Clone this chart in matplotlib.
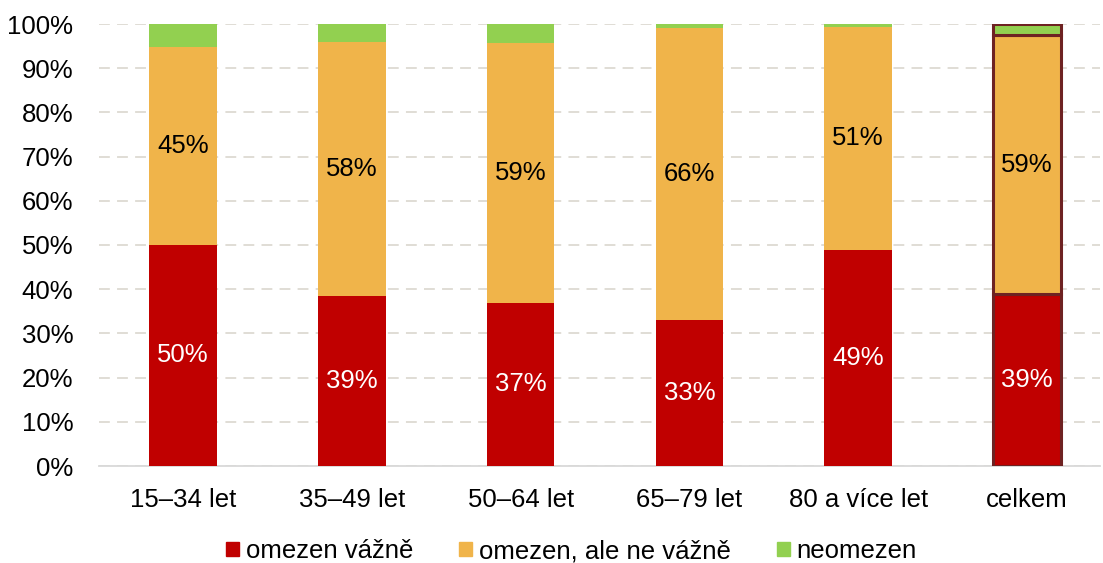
import numpy as np
import matplotlib
matplotlib.use("Agg")
from matplotlib import pyplot as plt

plt.rcParams['font.family'] = ['Liberation Sans', 'DejaVu Sans']

categories = ['15–34 let', '35–49 let', '50–64 let', '65–79 let', '80 a více let', 'celkem']
vazne = [50.0, 38.5, 36.9, 33.0, 48.9, 38.9]
ne_vazne = [44.8, 57.5, 58.8, 66.0, 50.5, 58.6]
neomezen = [5.2, 4.0, 4.3, 1.0, 0.6, 2.5]
labels_vazne = ['50%', '39%', '37%', '33%', '49%', '39%']
labels_ne = ['45%', '58%', '59%', '66%', '51%', '59%']

c_red = '#C00000'
c_orange = '#F0B44A'
c_green = '#92D050'
fs = 18.5

fig = plt.figure(figsize=(11.03, 5.63), dpi=100)
ax = fig.add_axes([99 / 1103, 1 - 466 / 563, 1001 / 1103, 442 / 563])

x = np.arange(len(categories))
w = 0.40
b1 = ax.bar(x, vazne, w, color=c_red, label='omezen vážně', zorder=3)
b2 = ax.bar(x, ne_vazne, w, bottom=vazne, color=c_orange, label='omezen, ale ne vážně', zorder=3)
bottom3 = np.array(vazne) + np.array(ne_vazne)
b3 = ax.bar(x, neomezen, w, bottom=bottom3, color=c_green, label='neomezen', zorder=3)

# outline the total bar
for b in (b1, b2, b3):
    b[-1].set_edgecolor('#6E2222')
    b[-1].set_linewidth(2.2)

for i in range(len(categories)):
    ax.text(x[i], vazne[i] / 2, labels_vazne[i], ha='center', va='center',
            color='white', fontsize=fs, zorder=4)
    ax.text(x[i], vazne[i] + ne_vazne[i] / 2, labels_ne[i], ha='center', va='center',
            color='black', fontsize=fs, zorder=4)

ax.set_ylim(0, 100)
ax.set_xlim((99 - 183) / 168.8, (1100 - 183) / 168.8)
ax.set_yticks(np.arange(0, 101, 10))
ax.set_yticklabels([f'{v}%' for v in range(0, 101, 10)], fontsize=fs)
ax.set_xticks(x)
ax.set_xticklabels(categories, fontsize=fs)
ax.tick_params(length=0)
ax.tick_params(axis='x', pad=16)
ax.tick_params(axis='y', pad=18.5)

ax.yaxis.grid(True, color='#DDDAD2', linestyle=(0, (6, 4)), linewidth=1.3, zorder=0)
ax.set_axisbelow(True)
for s in ['top', 'right', 'left']:
    ax.spines[s].set_visible(False)
ax.spines['bottom'].set_color('#D9D9D9')
ax.spines['bottom'].set_linewidth(1.3)

handles = [plt.Rectangle((0, 0), 1, 1, color=c) for c in (c_red, c_orange, c_green)]
fig.legend(handles, ['omezen vážně', 'omezen, ale ne vážně', 'neomezen'],
           loc='center', bbox_to_anchor=(0.518, 1 - 551 / 563), ncol=3, frameon=False,
           fontsize=fs, handlelength=0.5, handleheight=0.5, handletextpad=0.25,
           columnspacing=1.8)

fig.savefig('out.png', dpi=100)
